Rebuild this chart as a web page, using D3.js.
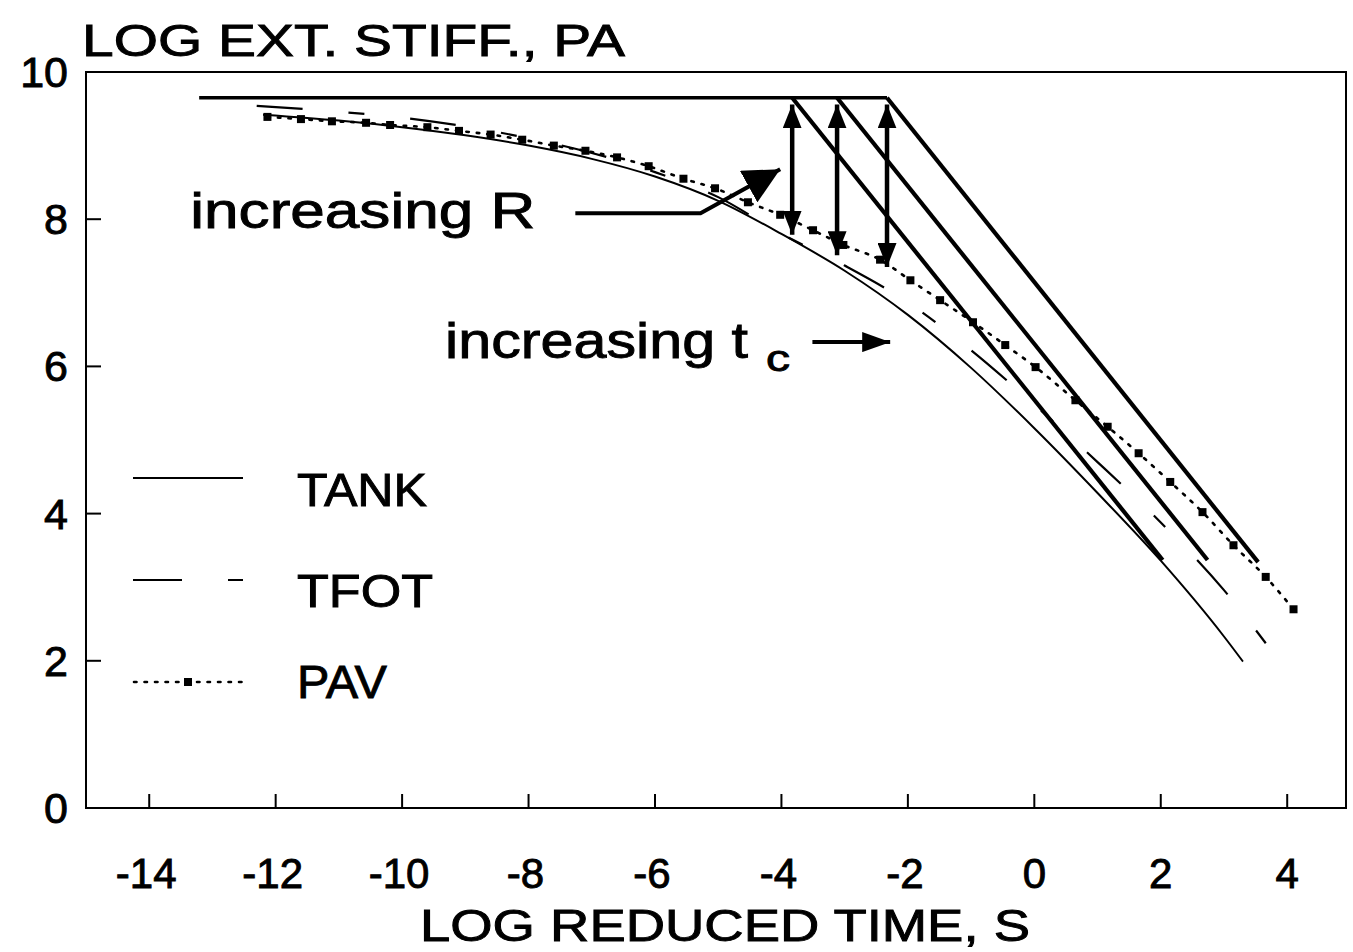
<!DOCTYPE html>
<html><head><meta charset="utf-8">
<script src="https://cdn.jsdelivr.net/npm/d3@7"></script>
<style>body{margin:0;background:#fff} text{font-family:"Liberation Sans",Arial,sans-serif;fill:#000;stroke:#000;stroke-width:0.9px}</style>
</head><body><svg id="c" width="1353" height="952"></svg>
<script>
// ---- data ----
const xTicks=[-14,-12,-10,-8,-6,-4,-2,0,2,4];
const yTicks=[0,2,4,6,8,10];
const tankX=[-12.2,-11,-10,-9,-8,-7,-6,-5,-4,-3,-2,-1,0,1,2,3,3.3];
const tankY=[9.42,9.34,9.25,9.14,9.0,8.82,8.58,8.25,7.8,7.3,6.7,5.98,5.16,4.28,3.36,2.33,1.99];
const tfotX=[-12.3,-11,-10,-9,-8,-7,-6,-5,-4,-3,-2,-1,0,1,2,3,3.8];
const tfotY=[9.54,9.46,9.38,9.26,9.1,8.9,8.64,8.3,7.8,7.37,6.87,6.22,5.48,4.7,3.88,2.96,2.08];
const pavX=[-12.13,-11.6,-11.11,-10.57,-10.19,-9.6,-9.1,-8.6,-8.1,-7.6,-7.1,-6.6,-6.1,-5.55,-5.05,-4.53,-4.02,-3.5,-3.02,-2.44,-1.96,-1.49,-0.97,-0.46,0.02,0.65,1.16,1.65,2.15,2.66,3.15,3.66,4.1];
const pavY=[9.39,9.36,9.33,9.31,9.28,9.25,9.2,9.15,9.08,9.0,8.93,8.84,8.72,8.55,8.42,8.23,8.06,7.85,7.65,7.45,7.17,6.9,6.6,6.29,5.99,5.54,5.18,4.82,4.43,4.02,3.57,3.14,2.7];
const glassyX=[-13.21,-2.33];
const glassyY=9.65;
const viscStartX=[-3.83,-3.12,-2.33];
const viscEndX=[2.03,2.74,3.54];
const viscEndY=[3.37,3.37,3.34];
const rArrowX=[-3.83,-3.12,-2.33];
const rArrowTop=9.56;
const rArrowBottom=[7.79,7.51,7.35];
const incRLineX=[-7.26,-5.28,-4.02];
const incRLineY=[8.08,8.08,8.68];
const incTcLineX=[-3.51,-2.28];
const incTcLineY=[6.33,6.33];
const legendNames=["TANK","TFOT","PAV"];

// ---- chart ----
const svg=d3.select("#c");
const x=d3.scaleLinear().domain([-15,4.93]).range([86,1346]);
const y=d3.scaleLinear().domain([0,10]).range([808,72]);

const defs=svg.append("defs");
function marker(id,w,l){
  defs.append("marker").attr("id",id).attr("markerUnits","userSpaceOnUse")
    .attr("viewBox",`0 ${-w/2} ${l} ${w}`).attr("refX",l).attr("refY",0)
    .attr("markerWidth",l).attr("markerHeight",w).attr("orient","auto-start-reverse")
    .append("path").attr("d",`M0,${-w/2}L${l},0L0,${w/2}Z`).attr("fill","#000");
}
marker("ah",19,24);
marker("ahBig",36,36);
marker("ahMid",20,28);

// frame
svg.append("rect").attr("x",x(-15)).attr("y",y(10)).attr("width",x(4.93)-x(-15)).attr("height",y(0)-y(10))
  .attr("fill","none").attr("stroke","#000").attr("stroke-width",2);

// ticks (inward)
svg.append("g").selectAll("line").data(xTicks).join("line")
  .attr("x1",d=>x(d)).attr("x2",d=>x(d)).attr("y1",y(0)).attr("y2",y(0)-14)
  .attr("stroke","#000").attr("stroke-width",2);
svg.append("g").selectAll("line").data(yTicks.filter(d=>d>0&&d<10)).join("line")
  .attr("x1",x(-15)).attr("x2",x(-15)+15).attr("y1",d=>y(d)).attr("y2",d=>y(d))
  .attr("stroke","#000").attr("stroke-width",2);

// tick labels
svg.append("g").selectAll("text").data(xTicks).join("text")
  .attr("x",d=>x(d)+ (d<0?-3:0)).attr("y",888).attr("text-anchor","middle")
  .attr("font-size",42).text(d=>d<0?"-"+Math.abs(d):String(d));
svg.append("g").selectAll("text").data(yTicks).join("text")
  .attr("x",68).attr("y",d=>y(d)+15).attr("text-anchor","end")
  .attr("font-size",43).text(d=>String(d));

// titles
svg.append("text").attr("x",82).attr("y",56).attr("font-size",45)
  .attr("textLength",543).attr("lengthAdjust","spacingAndGlyphs").text("LOG EXT. STIFF., PA");
svg.append("text").attr("x",420).attr("y",941).attr("font-size",45)
  .attr("textLength",610).attr("lengthAdjust","spacingAndGlyphs").text("LOG REDUCED TIME, S");

const line=d3.line().x(d=>x(d[0])).y(d=>y(d[1])).curve(d3.curveMonotoneX);
const zip=(a,b)=>a.map((v,i)=>[v,b[i]]);

// TANK
svg.append("path").attr("d",line(zip(tankX,tankY))).attr("fill","none").attr("stroke","#000").attr("stroke-width",2);
// TFOT
svg.append("path").attr("d",line(zip(tfotX,tfotY))).attr("fill","none").attr("stroke","#000").attr("stroke-width",2.2)
  .attr("stroke-dasharray","46,46,16,46");
// PAV
svg.append("path").attr("d",line(zip(pavX,pavY))).attr("fill","none").attr("stroke","#000").attr("stroke-width",2.6)
  .attr("stroke-dasharray","2.5,8").attr("stroke-linecap","round");
svg.append("g").selectAll("rect").data(zip(pavX,pavY)).join("rect")
  .attr("x",d=>x(d[0])-4).attr("y",d=>y(d[1])-4).attr("width",8).attr("height",8).attr("fill","#000");

// asymptotes (thick)
svg.append("line").attr("x1",x(glassyX[0])).attr("x2",x(glassyX[1])).attr("y1",y(glassyY)).attr("y2",y(glassyY))
  .attr("stroke","#000").attr("stroke-width",3.5);
svg.append("g").selectAll("line").data(viscStartX).join("line")
  .attr("x1",d=>x(d)).attr("y1",y(glassyY)).attr("x2",(d,i)=>x(viscEndX[i])).attr("y2",(d,i)=>y(viscEndY[i]))
  .attr("stroke","#000").attr("stroke-width",4.2);

// R double arrows
svg.append("g").selectAll("line").data(rArrowX).join("line")
  .attr("x1",d=>x(d)).attr("x2",d=>x(d)).attr("y1",y(rArrowTop)).attr("y2",(d,i)=>y(rArrowBottom[i]))
  .attr("stroke","#000").attr("stroke-width",4.5)
  .attr("marker-start","url(#ah)").attr("marker-end","url(#ah)");

// increasing R arrow
svg.append("path").attr("d",d3.line().x(d=>x(d[0])).y(d=>y(d[1]))(zip(incRLineX,incRLineY)))
  .attr("fill","none").attr("stroke","#000").attr("stroke-width",4).attr("marker-end","url(#ahBig)");
svg.append("text").attr("x",x(-13.35)).attr("y",y(7.88)).attr("font-size",50)
  .attr("textLength",345).attr("lengthAdjust","spacingAndGlyphs").text("increasing R");

// increasing tc arrow
svg.append("line").attr("x1",x(incTcLineX[0])).attr("x2",x(incTcLineX[1])).attr("y1",y(incTcLineY[0])).attr("y2",y(incTcLineY[1]))
  .attr("stroke","#000").attr("stroke-width",4).attr("marker-end","url(#ahMid)");
svg.append("text").attr("x",x(-9.32)).attr("y",y(6.11)).attr("font-size",50)
  .attr("textLength",303).attr("lengthAdjust","spacingAndGlyphs").text("increasing t");
svg.append("text").attr("x",766).attr("y",y(6.11)+13).attr("font-size",36)
  .attr("textLength",24).attr("lengthAdjust","spacingAndGlyphs").text("c");

// legend
const lg=svg.append("g");
const ly=[478,580,682];
lg.append("line").attr("x1",133).attr("x2",243).attr("y1",ly[0]).attr("y2",ly[0]).attr("stroke","#000").attr("stroke-width",2);
lg.append("line").attr("x1",133).attr("x2",182).attr("y1",ly[1]).attr("y2",ly[1]).attr("stroke","#000").attr("stroke-width",2);
lg.append("line").attr("x1",228).attr("x2",243).attr("y1",ly[1]).attr("y2",ly[1]).attr("stroke","#000").attr("stroke-width",2);
lg.append("line").attr("x1",134).attr("x2",243).attr("y1",ly[2]).attr("y2",ly[2]).attr("stroke","#000").attr("stroke-width",2.6)
  .attr("stroke-dasharray","2.5,8").attr("stroke-linecap","round");
lg.append("rect").attr("x",184).attr("y",ly[2]-4).attr("width",8).attr("height",8).attr("fill","#000");
lg.selectAll("text").data(legendNames).join("text")
  .attr("x",297).attr("y",(d,i)=>[506,607,698][i]).attr("font-size",46)
  .attr("textLength",(d,i)=>[130,136,90][i]).attr("lengthAdjust","spacingAndGlyphs").text(d=>d);
</script></body></html>
